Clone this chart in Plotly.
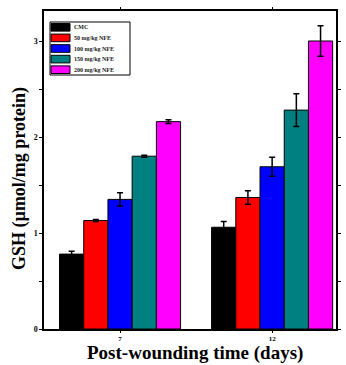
import plotly.graph_objects as go

days = ["7", "12"]
series_names = ["CMC", "50 mg/kg NFE", "100 mg/kg NFE", "150 mg/kg NFE", "200 mg/kg NFE"]
colors = ["#000000", "#ff0000", "#0000ff", "#008080", "#ff00ff"]
values = [
    [0.78, 1.06],
    [1.13, 1.37],
    [1.35, 1.69],
    [1.80, 2.28],
    [2.16, 3.00],
]
errors = [
    [0.03, 0.06],
    [0.01, 0.07],
    [0.07, 0.10],
    [0.01, 0.17],
    [0.02, 0.16],
]
y_ticks = [0, 1, 2, 3]

SERIF = "Liberation Serif"
W, H = 346, 365
L, R, T, B = 44, 10, 11, 36
PW, PH = W - L - R, H - T - B

def px_x(x):
    return (x - L) / PW

def px_y(y):
    return (H - B - y) / PH

fig = go.Figure()
for name, col, v, e in zip(series_names, colors, values, errors):
    fig.add_trace(go.Bar(
        x=days, y=v, name=name,
        marker=dict(color=col, line=dict(color="black", width=1)),
        error_y=dict(type="data", array=e, visible=True, color="black", thickness=1.5, width=3),
        showlegend=False,
    ))

# custom compact legend (paper coordinates)
lx0, lx1 = px_x(50), px_x(130)
ly_top, ly_bot = px_y(22), px_y(75)
fig.add_shape(type="rect", xref="paper", yref="paper", x0=lx0, x1=lx1, y0=ly_bot, y1=ly_top,
              line=dict(color="black", width=1), fillcolor="white")
n = len(series_names)
row_h = (ly_top - ly_bot) / n
for i, (name, col) in enumerate(zip(series_names, colors)):
    yc = ly_top - row_h * (i + 0.5)
    fig.add_shape(type="rect", xref="paper", yref="paper",
                  x0=px_x(51), x1=px_x(70), y0=yc - row_h * 0.36, y1=yc + row_h * 0.36,
                  line=dict(color="black", width=1), fillcolor=col)
    fig.add_annotation(xref="paper", yref="paper", x=px_x(72), y=yc, text="<b>" + name + "</b>",
                       showarrow=False, xanchor="left", yanchor="middle",
                       font=dict(family=SERIF, size=6, color="#222222"))

# axis titles as annotations for exact placement
fig.add_annotation(xref="paper", yref="paper", x=px_x(195), y=0, yshift=-36,
                   text="<b>Post-wounding time (days)</b>", showarrow=False,
                   xanchor="center", yanchor="bottom", borderpad=0,
                   font=dict(family=SERIF, size=19, color="black"))
fig.add_annotation(xref="paper", yref="paper", x=0, xshift=-25, y=px_y(179),
                   text="<b>GSH (µmol/mg protein)</b>", showarrow=False, textangle=-90,
                   xanchor="center", yanchor="middle",
                   font=dict(family=SERIF, size=18, color="black"))

fig.update_layout(
    width=W, height=H,
    margin=dict(l=L, r=R, t=T, b=B, autoexpand=False),
    plot_bgcolor="white", paper_bgcolor="white",
    barmode="group", bargap=0.204, bargroupgap=0,
    font=dict(family=SERIF, color="black"),
)
fig.update_xaxes(
    type="category", range=[-0.5, 1.42], automargin=False,
    showline=True, linecolor="black", linewidth=1.5, mirror="ticks",
    ticks="outside", ticklen=2, tickcolor="black",
    tickfont=dict(family=SERIF, size=7, color="black"),
    tickvals=days, ticktext=["<b>" + d + "</b>" for d in days],
    showgrid=False,
)
fig.update_yaxes(
    range=[0, 3.0 * (H - B - T) / (H - B - 41)], automargin=False,
    showline=True, linecolor="black", linewidth=1.5, mirror="ticks",
    ticks="outside", ticklen=3, tickcolor="black",
    tickvals=y_ticks, ticktext=["<b>%d</b>" % t for t in y_ticks],
    tickfont=dict(family=SERIF, size=8, color="black"),
    minor=dict(dtick=0.5, ticks="outside", ticklen=3, tickcolor="black", showgrid=False),
    showgrid=False, zeroline=False,
)

fig.write_html("out.html", config={"displayModeBar": False},
               post_script="document.body.style.margin='0';")
